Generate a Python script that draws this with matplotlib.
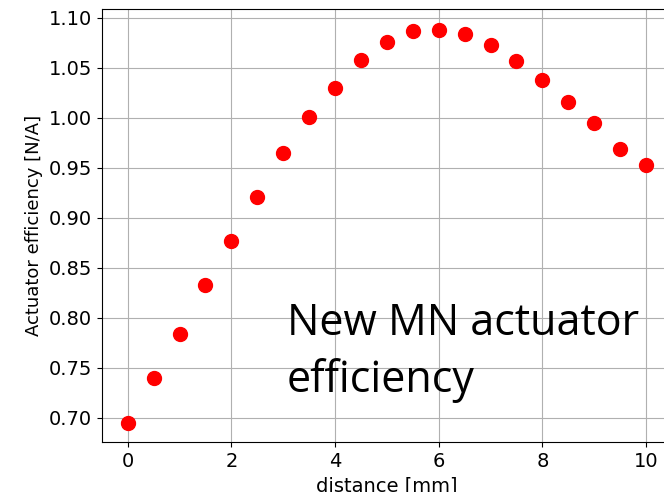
import matplotlib.pyplot as plt
import numpy as np

# distance along the stroke [mm] and measured efficiency [N/A]
distance_mm = [0, 0.5, 1, 1.5, 2, 2.5, 3, 3.5, 4, 4.5, 5,
               5.5, 6, 6.5, 7, 7.5, 8, 8.5, 9, 9.5, 10]
efficiency = [0.695, 0.740, 0.784, 0.833, 0.877, 0.921, 0.965, 1.001,
              1.030, 1.058, 1.076, 1.087, 1.088, 1.084, 1.073, 1.057,
              1.038, 1.016, 0.995, 0.969, 0.953]

yticks = [0.70, 0.75, 0.80, 0.85, 0.90, 0.95, 1.00, 1.05, 1.10]
xticks = [0, 2, 4, 6, 8, 10]

fig = plt.figure(figsize=(6.64, 4.92), dpi=100)
ax = fig.add_axes([101.8 / 664, 50 / 492, 570.2 / 664, 433.5 / 492])

ax.plot(distance_mm, efficiency, 'o', color='red', markersize=10)
ax.set_xlim(-0.5, 10.5)
ax.set_ylim(0.676, 1.109)
ax.set_xticks(xticks)
ax.set_yticks(yticks)
ax.set_yticklabels([f"{v:.2f}" for v in yticks])
ax.tick_params(labelsize=14)
ax.grid(True)

ax.set_xlabel("distance [mm]", fontsize=14)
ax.set_ylabel("Actuator efficiency [N/A]", fontsize=13)

# annotation, two lines, last baseline sits near y = 0.73
fig.text(287 / 664, 1 - 392 / 492, "New MN actuator\nefficiency",
         fontsize=31, family="Open Sans", va="baseline", ha="left",
         linespacing=1.36)

fig.savefig("out.png", dpi=100)
